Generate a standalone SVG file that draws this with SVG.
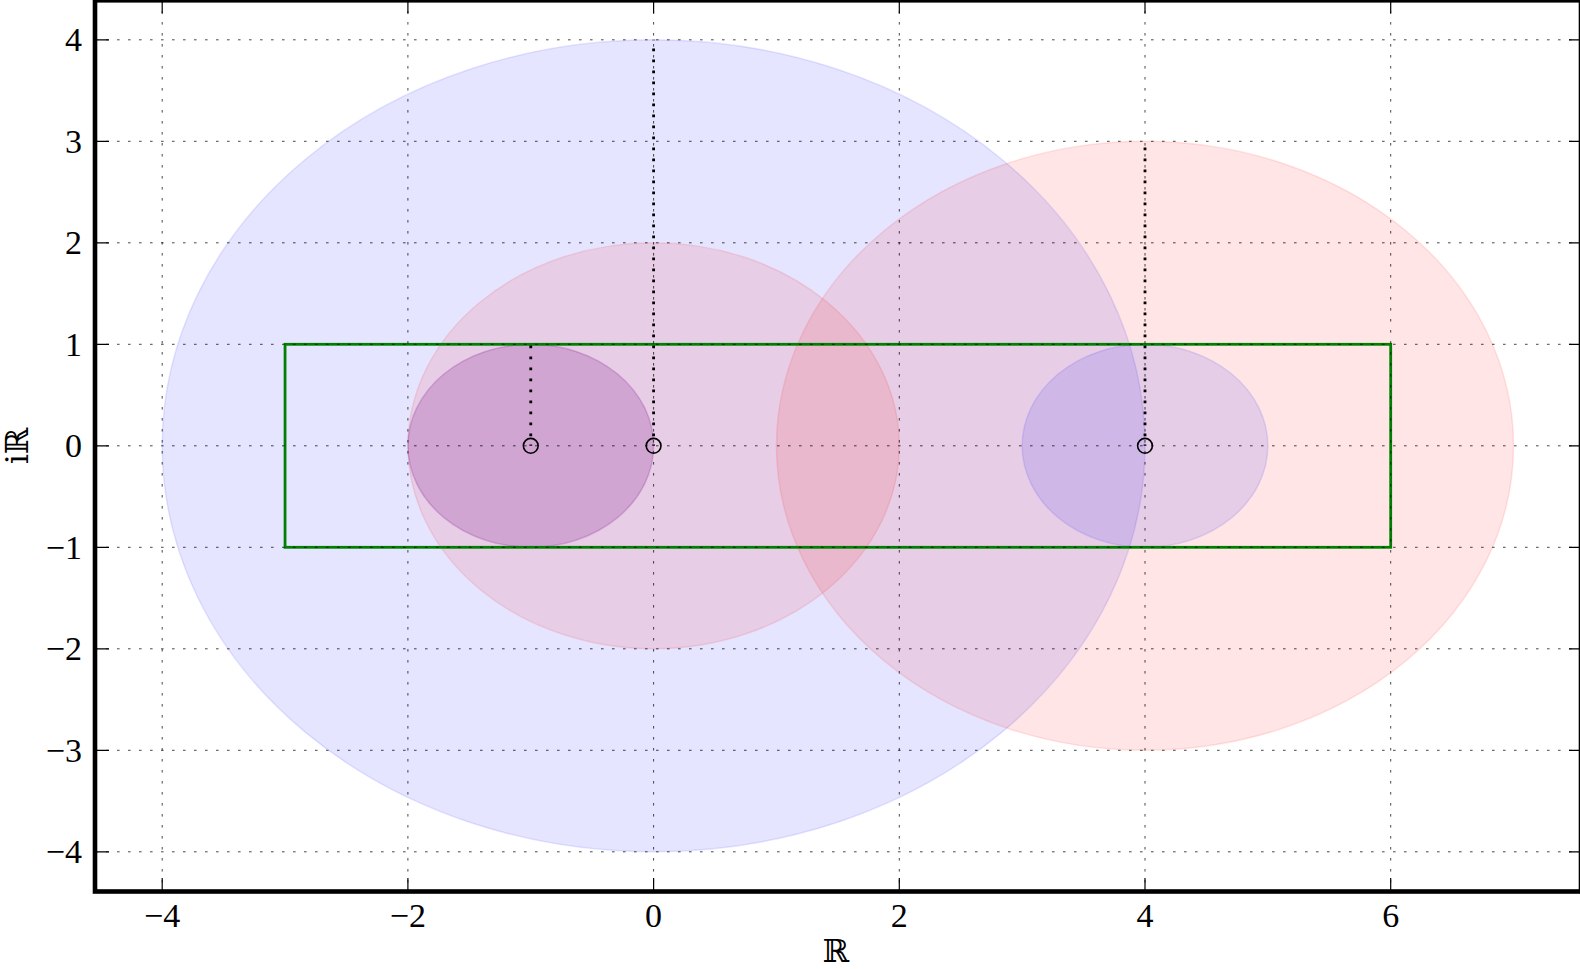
<svg xmlns="http://www.w3.org/2000/svg" width="1580" height="969" viewBox="0 0 1580 969">
<style>
.bl{fill:#0000ff;fill-opacity:0.1;stroke:#0000ff;stroke-opacity:0.1;stroke-width:1.5}
.rd{fill:#ff0000;fill-opacity:0.1;stroke:#ff0000;stroke-opacity:0.1;stroke-width:1.5}
.grid{stroke:#000;stroke-width:0.9;stroke-dasharray:2.6 8.4;fill:none;opacity:0.8}
.rad{stroke:#000;stroke-width:2.8;stroke-dasharray:2.8 8.2;stroke-dashoffset:1.4;fill:none}
.mk{fill:none;stroke:#000;stroke-width:1.6}
.tick{stroke:#000;stroke-width:1.2}
.yl{font-family:"Liberation Serif",serif;font-size:34px;text-anchor:end;fill:#000}
.xl{font-family:"Liberation Serif",serif;font-size:34px;text-anchor:middle;fill:#000}
.al{font-family:"DejaVu Serif","DejaVu Sans",serif;font-size:32px;text-anchor:middle;fill:#000}
</style>
<defs>
<clipPath id="ax"><rect x="95" y="0" width="1486" height="891.5"/></clipPath>
</defs>
<rect width="1580" height="969" fill="#fff"/>
<g id="disks" clip-path="url(#ax)">
<ellipse id="blue-r4" class="bl" cx="653.6" cy="445.8" rx="491.4" ry="406"/>
<ellipse id="red-r3" class="rd" cx="1145" cy="445.8" rx="368.55" ry="304.5"/>
<ellipse id="red-r2" class="rd" cx="653.6" cy="445.8" rx="245.7" ry="203"/>
<ellipse id="red-r1" class="rd" cx="530.75" cy="445.8" rx="122.85" ry="101.5"/>
<ellipse id="blue-r1a" class="bl" cx="530.75" cy="445.8" rx="122.85" ry="101.5"/>
<ellipse id="blue-r1b" class="bl" cx="1145" cy="445.8" rx="122.85" ry="101.5"/>
</g>
<g id="box">
<rect x="285.05" y="344.3" width="1105.65" height="203" fill="none" stroke="#008000" stroke-width="2.8"/>
</g>
<g id="radii">
<line class="rad" x1="530.75" y1="445.8" x2="530.75" y2="344.3"/>
<line class="rad" x1="653.6" y1="445.8" x2="653.6" y2="39.8"/>
<line class="rad" x1="1145" y1="445.8" x2="1145" y2="141.3"/>
</g>
<g id="centers">
<circle class="mk" cx="530.75" cy="445.8" r="7.4"/>
<circle class="mk" cx="653.6" cy="445.8" r="7.4"/>
<circle class="mk" cx="1145" cy="445.8" r="7.4"/>
</g>
<g id="grid" clip-path="url(#ax)">
<path class="grid" d="M162.2 0V891.5M407.9 0V891.5M653.6 0V891.5M899.3 0V891.5M1145 0V891.5M1390.7 0V891.5"/>
<path class="grid" d="M95 39.8H1581M95 141.3H1581M95 242.8H1581M95 344.3H1581M95 445.8H1581M95 547.3H1581M95 648.8H1581M95 750.3H1581M95 851.8H1581"/>
</g>
<g id="ticks">
<path class="tick" d="M162.2 891.5V878M407.9 891.5V878M653.6 891.5V878M899.3 891.5V878M1145 891.5V878M1390.7 891.5V878"/>
<path class="tick" d="M162.2 0V13.5M407.9 0V13.5M653.6 0V13.5M899.3 0V13.5M1145 0V13.5M1390.7 0V13.5"/>
<path class="tick" d="M95 39.8H109M95 141.3H109M95 242.8H109M95 344.3H109M95 445.8H109M95 547.3H109M95 648.8H109M95 750.3H109M95 851.8H109"/>
<path class="tick" d="M1581 39.8H1569M1581 141.3H1569M1581 242.8H1569M1581 344.3H1569M1581 445.8H1569M1581 547.3H1569M1581 648.8H1569M1581 750.3H1569M1581 851.8H1569"/>
</g>
<g id="frame">
<rect x="95" y="0.3" width="1486" height="891.2" fill="none" stroke="#000" stroke-width="4.6"/>
</g>
<g id="ytick-labels">
<text class="yl" x="82" y="51">4</text>
<text class="yl" x="82" y="152.5">3</text>
<text class="yl" x="82" y="254">2</text>
<text class="yl" x="82" y="355.5">1</text>
<text class="yl" x="82" y="457">0</text>
<text class="yl" x="82" y="558.5">−1</text>
<text class="yl" x="82" y="660">−2</text>
<text class="yl" x="82" y="761.5">−3</text>
<text class="yl" x="82" y="863">−4</text>
</g>
<g id="xtick-labels">
<text class="xl" x="162.2" y="927">−4</text>
<text class="xl" x="407.9" y="927">−2</text>
<text class="xl" x="653.6" y="927">0</text>
<text class="xl" x="899.3" y="927">2</text>
<text class="xl" x="1145" y="927">4</text>
<text class="xl" x="1390.7" y="927">6</text>
</g>
<g id="axis-labels">
<text class="al" x="836" y="962">ℝ</text>
<text class="al" transform="translate(28,445.8) rotate(-90)">iℝ</text>
</g>
</svg>
